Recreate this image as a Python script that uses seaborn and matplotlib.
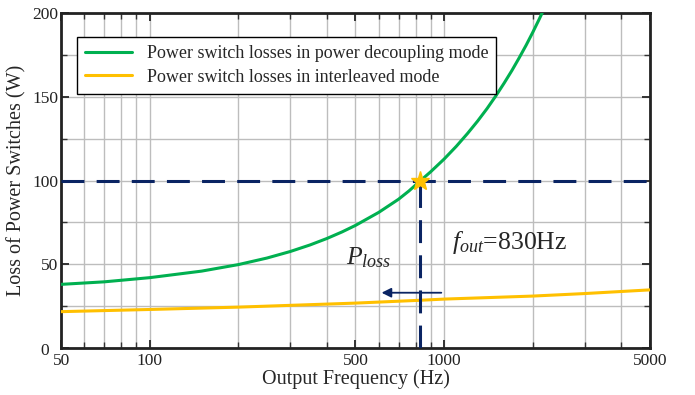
import numpy as np
import pandas as pd
import seaborn as sns
import matplotlib.pyplot as plt
import matplotlib.transforms as mtransforms
from matplotlib.ticker import FixedLocator, NullFormatter

# values
freq_decoupling = [50, 70, 100, 150, 200, 250, 300, 350, 400, 450, 500, 600, 700, 760, 830,
                   900, 1000, 1100, 1200, 1300, 1400, 1500, 1600, 1700, 1800, 1900, 2000,
                   2100, 2200]
loss_decoupling = [38, 39.5, 42, 45.9, 49.8, 53.7, 57.6, 61.5, 65.4, 69.3, 73.2, 81, 88.8, 93.8, 99.8,
                   105.2, 112.8, 120.4, 128, 135.5, 143, 150.6, 158.2, 165.7, 173.3, 180.8, 188.4,
                   196, 203.5]
freq_interleaved = [50, 100, 200, 500, 830, 1000, 2000, 3000, 5000]
loss_interleaved = [21.7, 23, 24.4, 26.8, 28.5, 29.2, 31, 32.5, 34.7]
f_out = 830
p_target = 100

green = '#00B050'
yellow = '#FFC000'
navy = '#0A2463'

sns.set_style('ticks')
plt.rcParams['font.family'] = ['Liberation Serif', 'DejaVu Serif']
plt.rcParams['mathtext.fontset'] = 'custom'
plt.rcParams['mathtext.it'] = 'Liberation Serif:italic'
plt.rcParams['mathtext.rm'] = 'Liberation Serif'

df1 = pd.DataFrame({'f': freq_decoupling, 'loss': loss_decoupling})
df2 = pd.DataFrame({'f': freq_interleaved, 'loss': loss_interleaved})

fig = plt.figure(figsize=(6.95, 3.95), dpi=100)
ax = fig.add_axes([0.088, 0.119, 0.847, 0.848])

ax.set_xscale('log')
sns.lineplot(data=df1, x='f', y='loss', color=green, lw=2.2, ax=ax,
             label='Power switch losses in power decoupling mode', zorder=3)
sns.lineplot(data=df2, x='f', y='loss', color=yellow, lw=2.2, ax=ax,
             label='Power switch losses in interleaved mode', zorder=3)

ax.plot([50, 5000], [p_target, p_target], color=navy, lw=2.2, ls=(0, (7.5, 4)), zorder=4)
ax.plot([f_out, f_out], [0, p_target], color=navy, lw=2.2, ls=(0, (7.5, 4)), zorder=4)
ax.plot([f_out], [p_target], marker='*', color=yellow, ms=14, zorder=5)

ax.annotate('', xy=(600, 33), xytext=(1000, 33),
            arrowprops=dict(arrowstyle='-|>', color=navy, lw=1.3,
                            mutation_scale=14), zorder=5)
ax.text(465, 54, r'$P_{loss}$', fontsize=18.5, ha='left', va='center')
ax.text(1060, 63, r'$f_{out}$=830Hz', fontsize=18.5, ha='left', va='center')

ax.set_xlim(50, 5000)
ax.set_ylim(0, 200)
ax.xaxis.set_major_locator(FixedLocator([50, 100, 500, 1000, 5000]))
ax.set_xticklabels(['50', '100', '500', '1000', '5000'])
ax.xaxis.set_minor_locator(FixedLocator([60, 70, 80, 90, 200, 300, 400, 600, 700, 800, 900,
                                         2000, 3000, 4000]))
ax.xaxis.set_minor_formatter(NullFormatter())
ax.set_yticks([0, 50, 100, 150, 200])
ax.set_yticks([25, 75, 125, 175], minor=True)

ax.grid(True, which='both', color='#bdbdbd', lw=1)
ax.set_axisbelow(True)
ax.tick_params(which='both', direction='in', top=True, right=True,
               labelsize=12.5, color='#333333', labelcolor='#222222')
ax.tick_params(axis='y', pad=2)
ax.tick_params(which='major', length=6, width=1.4)
ax.tick_params(which='minor', length=4, width=1)
for s in ax.spines.values():
    s.set_linewidth(2)
    s.set_color('#222222')

# the "0" label sits a little left of the corner, clear of "50"
zero_lbl = ax.get_yticklabels()[0]
zero_lbl.set_transform(zero_lbl.get_transform() +
                       mtransforms.ScaledTranslation(-9 / 100, -1 / 100, fig.dpi_scale_trans))

ax.set_xlabel('Output Frequency (Hz)', fontsize=14.5, labelpad=0)
ax.set_ylabel('Loss of Power Switches (W)', fontsize=14.5, labelpad=4)

leg = ax.legend(loc='upper left', bbox_to_anchor=(0.027, 0.928), borderaxespad=0,
                fontsize=13, frameon=True, fancybox=False, edgecolor='black',
                framealpha=1, handlelength=2.6, borderpad=0.45, labelspacing=0.35)
leg.get_frame().set_linewidth(1)

fig.savefig('out.png', dpi=100)
